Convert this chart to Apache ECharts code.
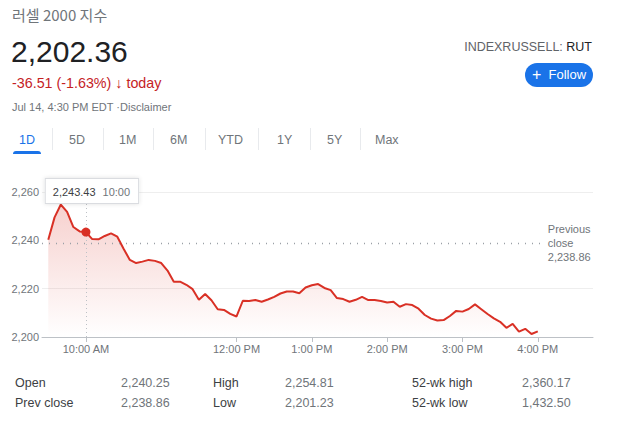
<!DOCTYPE html>
<html>
<head>
<meta charset="utf-8">
<script src="https://cdn.jsdelivr.net/npm/echarts@6.0.0/dist/echarts.min.js"></script>
<style>
  html, body { margin: 0; padding: 0; background: #fff; }
  body { width: 630px; height: 431px; position: relative; overflow: hidden;
         font-family: Arial, "Liberation Sans", sans-serif; }
  .abs { position: absolute; white-space: nowrap; }
  #chart { position: absolute; left: 0; top: 0; width: 630px; height: 431px; }
  .tab { position: absolute; top: 132px; font-size: 12.5px; color: #70757a; line-height: 16px; }
  .sep { position: absolute; top: 128px; width: 1px; height: 22px; background: #e8eaed; }
  .lbl { position: absolute; font-size: 12.5px; color: #3c4043; line-height: 16px; }
  .val { position: absolute; font-size: 12.5px; color: #70757a; line-height: 16px; }
</style>
</head>
<body>
<div id="chart"></div>

<div class="abs" style="left:12px;top:4px;font-size:15px;color:#70757a;font-family:'Noto Sans CJK KR',Arial,sans-serif;line-height:21px;">러셀 2000 지수</div>
<div class="abs" style="left:11px;top:35px;font-size:30px;color:#202124;line-height:34px;">2,202.36</div>
<div class="abs" style="left:12px;top:74px;font-size:14.3px;color:#c5221f;line-height:18px;">-36.51 (-1.63%) <span style="font-weight:bold;">↓</span> today</div>
<div class="abs" style="left:12px;top:100px;font-size:11px;color:#70757a;line-height:14px;">Jul 14, 4:30 PM EDT ·Disclaimer</div>

<div class="abs" style="right:38px;top:39px;font-size:12.5px;color:#5f6368;line-height:16px;">INDEXRUSSELL: <span style="color:#202124;">RUT</span></div>
<div class="abs" style="left:525px;top:63px;width:68px;height:24px;border-radius:12px;background:#1a73e8;color:#fff;font-size:13px;line-height:24px;text-align:center;"><span style="font-size:16px;vertical-align:-1px;">+</span>&nbsp;&nbsp;Follow</div>

<div class="tab" style="left:19px;color:#1a73e8;">1D</div>
<div class="tab" style="left:69px;">5D</div>
<div class="tab" style="left:119px;">1M</div>
<div class="tab" style="left:170px;">6M</div>
<div class="tab" style="left:218px;">YTD</div>
<div class="tab" style="left:277px;">1Y</div>
<div class="tab" style="left:327px;">5Y</div>
<div class="tab" style="left:375px;">Max</div>
<div class="sep" style="left:52px;"></div>
<div class="sep" style="left:103px;"></div>
<div class="sep" style="left:153px;"></div>
<div class="sep" style="left:205px;"></div>
<div class="sep" style="left:258px;"></div>
<div class="sep" style="left:310px;"></div>
<div class="sep" style="left:360px;"></div>
<div class="abs" style="left:13px;top:151px;width:28px;height:3px;border-radius:3px 3px 0 0;background:#1a73e8;"></div>

<div id="stats"></div>

<script>
// ---- data ----
const times = [
  "9:30","9:35","9:40","9:45","9:50","9:55","10:00","10:05","10:10","10:15",
  "10:20","10:25","10:30","10:35","10:40","10:45","10:50","10:55","11:00","11:05",
  "11:10","11:15","11:20","11:25","11:30","11:35","11:40","11:45","11:50","11:55",
  "12:00","12:05","12:10","12:15","12:20","12:25","12:30","12:35","12:40","12:45",
  "12:50","12:55","13:00","13:05","13:10","13:15","13:20","13:25","13:30","13:35",
  "13:40","13:45","13:50","13:55","14:00","14:05","14:10","14:15","14:20","14:25",
  "14:30","14:35","14:40","14:45","14:50","14:55","15:00","15:05","15:10","15:15",
  "15:20","15:25","15:30","15:35","15:40","15:45","15:50","15:55","16:00"
];
const prices = [
  2240.25, 2249.5, 2254.81, 2251.8, 2245.5, 2243.7, 2243.43, 2240.5, 2240.4, 2241.8,
  2242.9, 2241.5, 2236.5, 2231.9, 2230.6, 2231.2, 2231.9, 2231.5, 2230.6, 2227.5,
  2222.9, 2222.9, 2221.6, 2219.8, 2215.4, 2217.8, 2215.2, 2211.5, 2211.2, 2209.6,
  2208.5, 2215.0, 2214.9, 2215.3, 2214.6, 2215.5, 2216.6, 2218.0, 2218.8, 2218.8,
  2218.1, 2220.5, 2221.4, 2221.9, 2220.3, 2219.4, 2216.1, 2215.7, 2214.6, 2215.4,
  2216.6, 2215.3, 2215.3, 2214.9, 2214.3, 2214.6, 2212.5, 2213.6, 2213.2, 2211.7,
  2209.1, 2207.6, 2206.8, 2207.0, 2208.7, 2210.8, 2210.5, 2211.6, 2213.5, 2211.5,
  2209.5, 2207.7, 2206.3, 2203.8, 2205.4, 2202.2, 2203.4, 2201.23, 2202.36
];
const xTickTimes = ["10:00","12:00","13:00","14:00","15:00","16:00"];
const xTickLabels = ["10:00 AM","12:00 PM","1:00 PM","2:00 PM","3:00 PM","4:00 PM"];
const yTicks = [2200, 2220, 2240, 2260];
const prevClose = 2238.86;
const hoverTime = "10:00";
const hoverPrice = 2243.43;
const statRows = [
  ["Open", "2,240.25", "High", "2,254.81", "52-wk high", "2,360.17"],
  ["Prev close", "2,238.86", "Low", "2,201.23", "52-wk low", "1,432.50"]
];

// ---- stats table ----
const statCols = [15, 121, 213, 285, 412, 522];
const statTops = [375, 395];
const statsEl = document.getElementById('stats');
statRows.forEach((row, r) => {
  row.forEach((txt, c) => {
    const d = document.createElement('div');
    d.className = (c % 2 === 0) ? 'lbl' : 'val';
    d.style.left = statCols[c] + 'px';
    d.style.top = statTops[r] + 'px';
    d.textContent = txt;
    statsEl.appendChild(d);
  });
});

// ---- chart ----
const toMin = s => { const p = s.split(':'); return (+p[0]) * 60 + (+p[1]); };
const fmt = v => v.toLocaleString('en-US', { minimumFractionDigits: 2, maximumFractionDigits: 2 });
const lineData = times.map((t, i) => [toMin(t), prices[i]]);
const tickMins = xTickTimes.map(toMin);
const hoverMin = toMin(hoverTime);

const chart = echarts.init(document.getElementById('chart'), null, { renderer: 'svg' });
chart.setOption({
  animation: false,
  grid: { left: 42, right: 37, top: 192, bottom: 94, containLabel: false },
  xAxis: {
    type: 'value', min: 565, max: 1004,
    splitLine: { show: false },
    axisLine: { show: true, onZero: false, lineStyle: { color: '#bdc1c6', width: 1 } },
    axisTick: { show: true, customValues: tickMins, length: 5, lineStyle: { color: '#bdc1c6' } },
    axisLabel: {
      customValues: tickMins, margin: 6, color: '#70757a', fontSize: 11,
      fontFamily: 'Arial, "Liberation Sans", sans-serif',
      formatter: v => xTickLabels[tickMins.indexOf(v)] || ''
    }
  },
  yAxis: {
    type: 'value', min: yTicks[0], max: yTicks[yTicks.length - 1], interval: 20,
    axisLine: { show: false }, axisTick: { show: false },
    splitLine: { show: true, lineStyle: { color: ['#ffffff', '#eeeeee', 'rgba(0,0,0,0)', '#eeeeee'], width: 1 } },
    axisLabel: {
      margin: 3, color: '#70757a', fontSize: 11,
      fontFamily: 'Arial, "Liberation Sans", sans-serif',
      formatter: v => v.toLocaleString('en-US')
    }
  },
  series: [{
    type: 'line',
    data: lineData,
    showSymbol: false,
    symbol: 'none',
    lineStyle: { color: '#d93025', width: 2 },
    areaStyle: {
      origin: 'start',
      color: new echarts.graphic.LinearGradient(0, 0, 0, 1, [
        { offset: 0, color: 'rgba(217,48,37,0.32)' },
        { offset: 1, color: 'rgba(217,48,37,0.0)' }
      ])
    },
    markLine: {
      silent: true, symbol: 'none', animation: false,
      data: [
        [
          { coord: [565, prevClose], lineStyle: { color: '#9aa0a6', type: [1, 6], width: 1.3 } },
          { coord: [964, prevClose],
            label: { show: true, position: 'end', distance: 5, formatter: 'Previous\nclose\n' + fmt(prevClose),
                     color: '#70757a', fontSize: 11, lineHeight: 14, align: 'left',
                     fontFamily: 'Arial, "Liberation Sans", sans-serif' } }
        ],
        [
          { coord: [hoverMin, yTicks[0]], lineStyle: { color: '#bdc1c6', type: [1, 3], width: 1 } },
          { coord: [hoverMin, 2255.5], label: { show: false } }
        ]
      ]
    },
    markPoint: {
      silent: true, animation: false,
      data: [
        { coord: [hoverMin, hoverPrice], symbol: 'circle', symbolSize: 9,
          itemStyle: { color: '#d93025' }, label: { show: false } },
        { coord: [hoverMin, yTicks[yTicks.length - 1]], symbol: 'rect', symbolSize: 1,
          itemStyle: { color: 'rgba(0,0,0,0)' },
          label: {
            show: true, position: 'inside', offset: [6, -1],
            formatter: '{v|' + fmt(hoverPrice) + '}{t|' + hoverTime + '}',
            backgroundColor: '#ffffff', borderColor: '#dadce0', borderWidth: 1,
            padding: [7, 8, 6, 7], shadowBlur: 4, shadowColor: 'rgba(0,0,0,0.12)',
            rich: {
              v: { color: '#3c4043', fontSize: 11, fontFamily: 'Arial, "Liberation Sans", sans-serif', padding: [0, 7, 0, 0] },
              t: { color: '#70757a', fontSize: 11, fontFamily: 'Arial, "Liberation Sans", sans-serif' }
            }
          }
        }
      ]
    }
  }]
});
</script>
</body>
</html>
